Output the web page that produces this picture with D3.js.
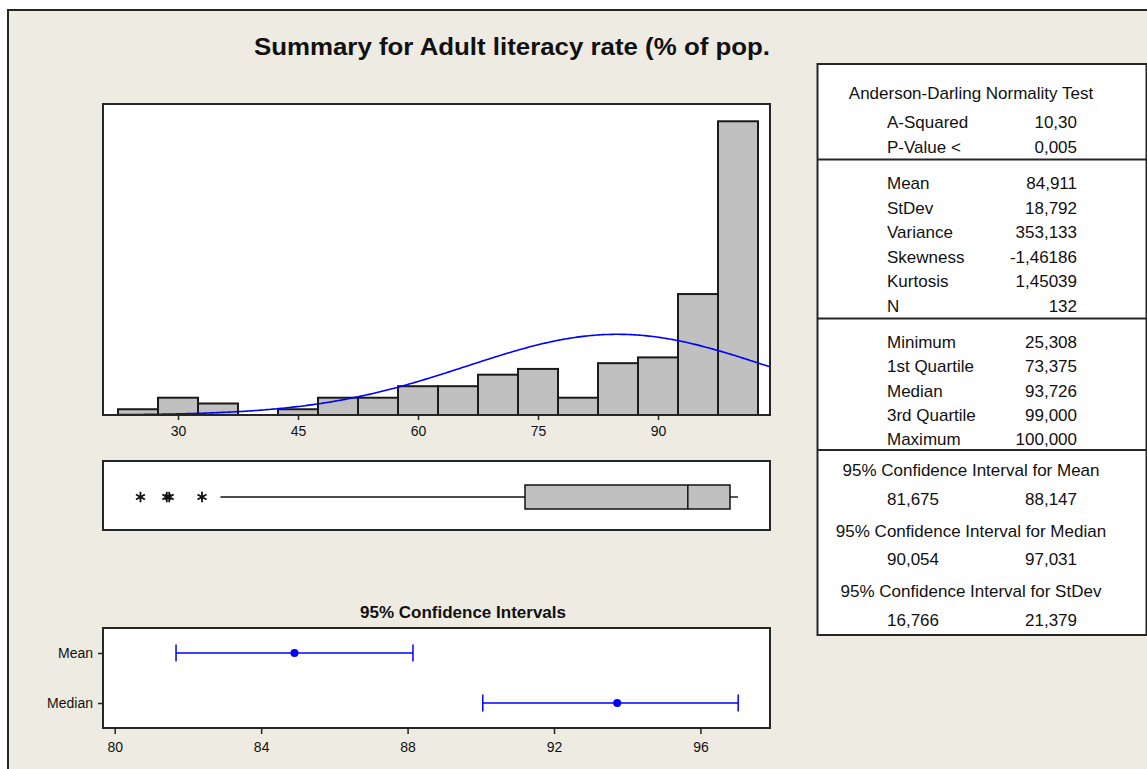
<!DOCTYPE html>
<html>
<head>
<meta charset="utf-8">
<script src="https://cdn.jsdelivr.net/npm/d3@7"></script>
<style>
  body { margin: 0; background: #fff; }
  text { font-family: "Liberation Sans", Arial, sans-serif; fill: #111; }
</style>
</head>
<body>
<div id="chart"></div>
<script>
const width = 1147, height = 769;

// histogram: bin centres and counts
const binMids = [25, 30, 35, 40, 45, 50, 55, 60, 65, 70, 75, 80, 85, 90, 95, 100];
const binCounts = [1, 3, 2, 0, 1, 3, 3, 5, 5, 7, 8, 3, 9, 10, 21, 51];
const binWidth = 5;
const histTicks = [30, 45, 60, 75, 90];

// fitted normal
const fitMean = 84.911, fitSd = 18.792, fitN = 132;

// boxplot
const boxQ1 = 73.375, boxMedian = 93.726, boxQ3 = 99.0;
const whiskerLo = 35.3, whiskerHi = 100.0;
const outliers = [25.308, 28.6, 28.9, 33.0];

// confidence intervals
const ciNames = ["Mean", "Median"];
const ciLow = [81.675, 90.054];
const ciEst = [84.911, 93.726];
const ciHigh = [88.147, 97.031];
const ciTicks = [80, 84, 88, 92, 96];

// summary table
const adLabels = ["A-Squared", "P-Value <"];
const adValues = ["10,30", "0,005"];
const descLabels = ["Mean", "StDev", "Variance", "Skewness", "Kurtosis", "N"];
const descValues = ["84,911", "18,792", "353,133", "-1,46186", "1,45039", "132"];
const quartLabels = ["Minimum", "1st Quartile", "Median", "3rd Quartile", "Maximum"];
const quartValues = ["25,308", "73,375", "93,726", "99,000", "100,000"];
const ciTitles = ["95% Confidence Interval for Mean", "95% Confidence Interval for Median", "95% Confidence Interval for StDev"];
const ciTabLow = ["81,675", "90,054", "16,766"];
const ciTabHigh = ["88,147", "97,031", "21,379"];

const svg = d3.select("#chart").append("svg")
  .attr("width", width)
  .attr("height", height);

// background + frame
svg.append("rect").attr("width", width).attr("height", height).attr("fill", "#fff");
svg.append("rect")
  .attr("x", 8).attr("y", 10).attr("width", 1200).attr("height", 800)
  .attr("fill", "#EEEBE2").attr("stroke", "#262626").attr("stroke-width", 2);

// title
svg.append("text")
  .attr("x", 512).attr("y", 55)
  .attr("text-anchor", "middle")
  .attr("font-size", 24).attr("font-weight", "bold")
  .attr("textLength", 516).attr("lengthAdjust", "spacingAndGlyphs")
  .text("Summary for Adult literacy rate (% of pop.");

// ---------- histogram ----------
const hx0 = 103, hx1 = 770, hy0 = 104, hy1 = 415;
const x = d3.scaleLinear().domain([20.625, 104]).range([hx0, hx1]);
const y = d3.scaleLinear().domain([0, 54]).range([hy1, hy0]);

svg.append("defs").append("clipPath").attr("id", "histClip")
  .append("rect").attr("x", hx0).attr("y", hy0).attr("width", hx1 - hx0).attr("height", hy1 - hy0);

svg.append("rect")
  .attr("x", hx0).attr("y", hy0).attr("width", hx1 - hx0).attr("height", hy1 - hy0)
  .attr("fill", "#fff");

const bins = binMids.map((m, i) => ({ mid: m, count: binCounts[i] })).filter(d => d.count > 0);

svg.append("g")
  .selectAll("rect")
  .data(bins).enter()
  .append("rect")
  .attr("x", d => x(d.mid - binWidth / 2))
  .attr("width", d => x(d.mid + binWidth / 2) - x(d.mid - binWidth / 2))
  .attr("y", d => y(d.count))
  .attr("height", d => y(0) - y(d.count))
  .attr("fill", "#C0C0C0")
  .attr("stroke", "#1a1a1a")
  .attr("stroke-width", 2);

// normal curve scaled to counts
const curvePts = d3.range(20.625, 104.01, 0.25).map(v => {
  const z = (v - fitMean) / fitSd;
  const dens = Math.exp(-0.5 * z * z) / (fitSd * Math.sqrt(2 * Math.PI));
  return [v, dens * fitN * binWidth];
});
svg.append("path")
  .datum(curvePts)
  .attr("clip-path", "url(#histClip)")
  .attr("fill", "none")
  .attr("stroke", "#0000FF")
  .attr("stroke-width", 1.6)
  .attr("d", d3.line().x(d => x(d[0])).y(d => y(d[1])));

svg.append("rect")
  .attr("x", hx0).attr("y", hy0).attr("width", hx1 - hx0).attr("height", hy1 - hy0)
  .attr("fill", "none").attr("stroke", "#262626").attr("stroke-width", 2);

const hAxis = svg.append("g")
  .attr("transform", "translate(0," + hy1 + ")")
  .call(d3.axisBottom(x).tickValues(histTicks).tickSize(5).tickPadding(6));
hAxis.select(".domain").remove();
hAxis.selectAll("line").attr("stroke", "#222").attr("stroke-width", 1.5);
hAxis.selectAll("text").attr("font-size", 14).attr("font-family", "Liberation Sans, Arial, sans-serif").attr("fill", "#111");

// ---------- boxplot ----------
const by0 = 461, by1 = 530, byc = 497;
svg.append("rect")
  .attr("x", hx0).attr("y", by0).attr("width", hx1 - hx0).attr("height", by1 - by0)
  .attr("fill", "#fff").attr("stroke", "#262626").attr("stroke-width", 2);

const bp = svg.append("g");
bp.selectAll("line.whisker")
  .data([[whiskerLo, boxQ1], [boxQ3, whiskerHi]]).enter()
  .append("line")
  .attr("x1", d => x(d[0])).attr("x2", d => x(d[1]))
  .attr("y1", byc).attr("y2", byc)
  .attr("stroke", "#111").attr("stroke-width", 1.4);
bp.append("rect")
  .attr("x", x(boxQ1)).attr("width", x(boxQ3) - x(boxQ1))
  .attr("y", 485).attr("height", 24)
  .attr("fill", "#C0C0C0").attr("stroke", "#111").attr("stroke-width", 1.5);
bp.append("line")
  .attr("x1", x(boxMedian)).attr("x2", x(boxMedian))
  .attr("y1", 485).attr("y2", 509)
  .attr("stroke", "#111").attr("stroke-width", 1.5);
bp.selectAll("path.outlier")
  .data(outliers).enter()
  .append("path")
  .attr("transform", d => "translate(" + x(d) + "," + byc + ")")
  .attr("d", d3.symbol(d3.symbolAsterisk, 75))
  .attr("fill", "none").attr("stroke", "#111").attr("stroke-width", 1.8);

// ---------- confidence intervals ----------
const cy0 = 628, cy1 = 728;
const xc = d3.scaleLinear().domain([79.68, 97.9]).range([hx0, hx1]);
const yc = d3.scalePoint().domain(ciNames).range([cy0, cy1]).padding(0.5);

svg.append("text")
  .attr("x", 463).attr("y", 618)
  .attr("text-anchor", "middle")
  .attr("font-size", 17).attr("font-weight", "bold")
  .text("95% Confidence Intervals");

svg.append("rect")
  .attr("x", hx0).attr("y", cy0).attr("width", hx1 - hx0).attr("height", cy1 - cy0)
  .attr("fill", "#fff").attr("stroke", "#262626").attr("stroke-width", 2);

const ciData = ciNames.map((n, i) => ({ name: n, lo: ciLow[i], est: ciEst[i], hi: ciHigh[i] }));
const ci = svg.append("g").selectAll("g").data(ciData).enter().append("g");
ci.append("line")
  .attr("x1", d => xc(d.lo)).attr("x2", d => xc(d.hi))
  .attr("y1", d => yc(d.name)).attr("y2", d => yc(d.name))
  .attr("stroke", "#0000FF").attr("stroke-width", 1.5);
ci.selectAll("line.cap")
  .data(d => [[d.lo, d.name], [d.hi, d.name]]).enter()
  .append("line")
  .attr("x1", d => xc(d[0])).attr("x2", d => xc(d[0]))
  .attr("y1", d => yc(d[1]) - 8.5).attr("y2", d => yc(d[1]) + 8.5)
  .attr("stroke", "#0000FF").attr("stroke-width", 1.5);
ci.append("circle")
  .attr("cx", d => xc(d.est)).attr("cy", d => yc(d.name))
  .attr("r", 4).attr("fill", "#0000FF");

const cxAxis = svg.append("g")
  .attr("transform", "translate(0," + cy1 + ")")
  .call(d3.axisBottom(xc).tickValues(ciTicks).tickSize(6).tickPadding(8));
const cyAxis = svg.append("g")
  .attr("transform", "translate(" + hx0 + ",0)")
  .call(d3.axisLeft(yc).tickSize(5).tickPadding(5));
[cxAxis, cyAxis].forEach(a => {
  a.select(".domain").remove();
  a.selectAll("line").attr("stroke", "#222").attr("stroke-width", 1.5);
  a.selectAll("text").attr("font-size", 14).attr("font-family", "Liberation Sans, Arial, sans-serif").attr("fill", "#111");
});

// ---------- summary table ----------
const tx0 = 817.5, tx1 = 1146.5, ty0 = 64, ty1 = 635;
const labX = 887, valX = 1077, midX = 971;
svg.append("rect")
  .attr("x", tx0).attr("y", ty0).attr("width", tx1 - tx0).attr("height", ty1 - ty0)
  .attr("fill", "#fff").attr("stroke", "#262626").attr("stroke-width", 2);
svg.append("g").selectAll("line")
  .data([159.5, 318.5, 450]).enter()
  .append("line")
  .attr("x1", tx0).attr("x2", tx1)
  .attr("y1", d => d).attr("y2", d => d)
  .attr("stroke", "#262626").attr("stroke-width", 2);

const tbl = svg.append("g").attr("font-size", 17);
tbl.append("text")
  .attr("x", midX).attr("y", 93).attr("dy", "0.35em")
  .attr("text-anchor", "middle")
  .text("Anderson-Darling Normality Test");

function rows(labels, values, y0, step) {
  labels.forEach((l, i) => {
    tbl.append("text").attr("x", labX).attr("y", y0 + i * step).attr("dy", "0.35em").text(l);
    tbl.append("text").attr("x", valX).attr("y", y0 + i * step).attr("dy", "0.35em")
      .attr("text-anchor", "end").text(values[i]);
  });
}
rows(adLabels, adValues, 122.5, 24.2);
rows(descLabels, descValues, 183.5, 24.5);
rows(quartLabels, quartValues, 342, 24.3);

ciTitles.forEach((t, i) => {
  const yy = 470.5 + i * 60.5;
  tbl.append("text").attr("x", midX).attr("y", yy).attr("dy", "0.35em")
    .attr("text-anchor", "middle").text(t);
  tbl.append("text").attr("x", labX).attr("y", yy + 28.5).attr("dy", "0.35em").text(ciTabLow[i]);
  tbl.append("text").attr("x", valX).attr("y", yy + 28.5).attr("dy", "0.35em")
    .attr("text-anchor", "end").text(ciTabHigh[i]);
});
</script>
</body>
</html>
